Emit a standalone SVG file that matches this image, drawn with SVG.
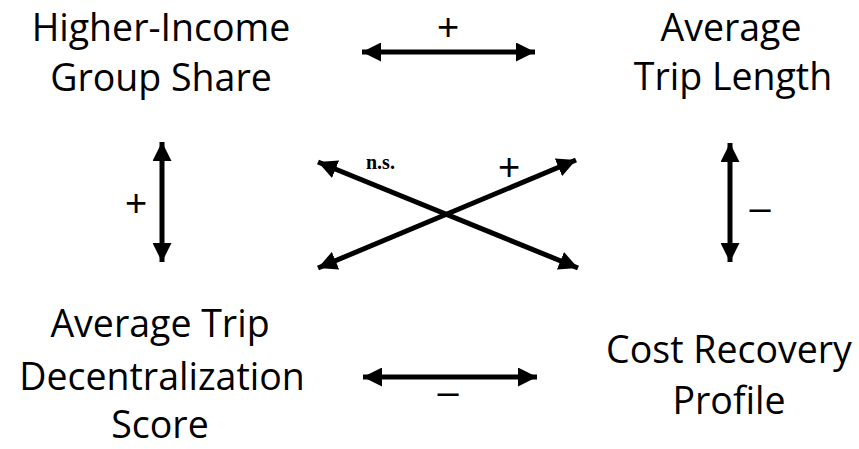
<svg xmlns="http://www.w3.org/2000/svg" width="859" height="449" viewBox="0 0 859 449">
<defs>
<style>
.node text{font-family:"Open Sans","Liberation Sans",sans-serif;font-size:37.5px;fill:#000;text-anchor:middle}
.lbl{font-family:"Liberation Sans","DejaVu Sans",sans-serif;font-size:38px;fill:#000;text-anchor:middle}
.ns{font-family:"Liberation Serif","DejaVu Serif",serif;font-size:20px;font-weight:bold;fill:#000}
.conn line{stroke:#000;stroke-width:5;marker-start:url(#ah);marker-end:url(#ah)}
</style>
<marker id="ah" markerUnits="userSpaceOnUse" viewBox="0 0 19 19" refX="19" refY="9.5" markerWidth="19" markerHeight="19" orient="auto-start-reverse">
<path d="M0,0 L19,9.5 L0,19 Z" fill="#000"/>
</marker>
</defs>
<rect width="859" height="449" fill="#fff"/>
<g id="node-higher-income" class="node">
<text x="161" y="41">Higher-Income</text>
<text x="161" y="91">Group Share</text>
</g>
<g id="node-trip-length" class="node">
<text x="731" y="41">Average</text>
<text x="733" y="90">Trip Length</text>
</g>
<g id="node-decentralization" class="node">
<text x="160" y="337">Average Trip</text>
<text x="162" y="390">Decentralization</text>
<text x="160" y="438">Score</text>
</g>
<g id="node-cost-recovery" class="node">
<text x="729" y="363">Cost Recovery</text>
<text x="729" y="414">Profile</text>
</g>
<g id="connectors" class="conn">
<line x1="362" y1="52" x2="535" y2="52"/>
<line x1="363" y1="377" x2="537" y2="377"/>
<line x1="162" y1="142" x2="162" y2="262"/>
<line x1="730" y1="143" x2="730" y2="262"/>
<line x1="318" y1="162" x2="578" y2="268"/>
<line x1="318" y1="268" x2="576" y2="160"/>
</g>
<g id="labels">
<text class="lbl" x="448" y="40">+</text>
<text class="lbl" x="448" y="405">–</text>
<text class="lbl" x="136" y="216">+</text>
<text class="lbl" x="760" y="221">–</text>
<text class="lbl" x="509" y="180">+</text>
<text class="ns" x="366" y="169">n.s.</text>
</g>
</svg>
